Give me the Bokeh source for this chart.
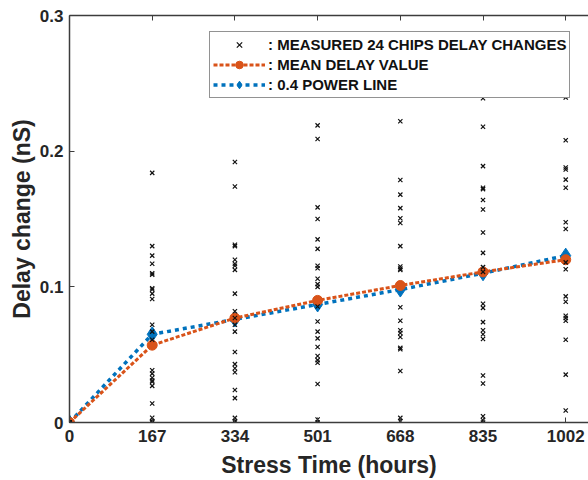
import numpy as np
from bokeh.plotting import figure
from bokeh.models import (Range1d, FixedTicker, LinearAxis, Legend, LegendItem,
                          ColumnDataSource, CustomJSTickFormatter)
from bokeh.embed import file_html
from bokeh.resources import INLINE

# ---- data ----
stress_hours = [0, 167, 334, 501, 668, 835, 1002]
x_tick_labels = ["0", "167", "334", "501", "668", "835", "1002"]
y_tick_values = [0, 0.1, 0.2, 0.3]
y_tick_labels = ["0", "0.1", "0.2", "0.3"]

measured_0 = [0.0] * 24
measured_167 = [0.184, 0.130, 0.123, 0.117, 0.110, 0.109, 0.099, 0.098, 0.095, 0.091,
                0.072, 0.067, 0.061, 0.0385, 0.036, 0.033, 0.031, 0.030, 0.027, 0.014,
                0.0035, 0.001, 0.0, 0.0]
measured_334 = [0.192, 0.174, 0.131, 0.130, 0.120, 0.117, 0.1155, 0.1125, 0.095, 0.082,
                0.077, 0.072, 0.067, 0.052, 0.043, 0.040, 0.037, 0.024, 0.018, 0.0034,
                0.001, 0.0]
measured_501 = [0.219, 0.209, 0.1586, 0.150, 0.135, 0.128, 0.1155, 0.1137, 0.106, 0.102,
                0.100, 0.0855, 0.0745, 0.067, 0.062, 0.0556, 0.049, 0.046, 0.044, 0.0284,
                0.0022, 0.0]
measured_668 = [0.222, 0.1787, 0.168, 0.158, 0.1505, 0.147, 0.130, 0.115, 0.1135, 0.1125,
                0.085, 0.075, 0.068, 0.066, 0.063, 0.055, 0.054, 0.038, 0.0034, 0.001]
measured_835 = [0.239, 0.218, 0.189, 0.173, 0.172, 0.164, 0.157, 0.140, 0.125, 0.1145,
                0.111, 0.0875, 0.0845, 0.074, 0.068, 0.065, 0.0615, 0.0346, 0.0287, 0.0046,
                0.0017, 0.0]
measured_1002 = [0.2395, 0.208, 0.188, 0.1865, 0.179, 0.173, 0.1476, 0.1426, 0.118, 0.113,
                 0.093, 0.089, 0.0787, 0.077, 0.075, 0.061, 0.0353, 0.0088]

mean_delay = [0.0, 0.057, 0.077, 0.090, 0.101, 0.111, 0.120]
power_line = [0.0, 0.065, 0.076, 0.087, 0.098, 0.110, 0.123]

measured_by_time = [measured_0, measured_167, measured_334, measured_501,
                    measured_668, measured_835, measured_1002]

# ---- build sources ----
mx, my = [], []
for t, vals in zip(stress_hours, measured_by_time):
    mx.extend([t] * len(vals))
    my.extend(vals)
meas_src = ColumnDataSource(dict(x=mx, y=my))
mean_src = ColumnDataSource(dict(x=stress_hours, y=mean_delay))
pow_src = ColumnDataSource(dict(x=stress_hours, y=power_line))

ORANGE = "#D95319"
BLUE = "#0072BD"
AX = "#3c3c3c"
TXT = "#262626"
FONT = "Liberation Sans"

p = figure(width=588, height=480, x_range=Range1d(0, 1048), y_range=Range1d(0, 0.3),
           output_backend="svg", toolbar_location=None,
           min_border_left=69, min_border_right=0, min_border_top=15, min_border_bottom=57)
p.xgrid.visible = False
p.ygrid.visible = False
p.outline_line_color = None
p.background_fill_color = "white"
p.border_fill_color = "white"

# lines + markers
bl = p.line("x", "y", source=pow_src, line_color=BLUE, line_width=3.5, line_dash="4 4")
bm = p.scatter("x", "y", source=pow_src, marker="diamond", size=15, fill_color=BLUE,
               line_color=BLUE)
ol = p.line("x", "y", source=mean_src, line_color=ORANGE, line_width=3, line_dash="4 2")
om = p.scatter("x", "y", source=mean_src, marker="circle", size=10, fill_color=ORANGE,
               line_color=ORANGE)
sc = p.scatter("x", "y", source=meas_src, marker="x", size=6, line_color="#111111",
               line_width=1.2)

# axes
def style_axis(ax):
    ax.axis_line_color = AX
    ax.axis_line_width = 1.5
    ax.major_tick_line_color = AX
    ax.major_tick_line_width = 1
    ax.major_tick_in = 5
    ax.major_tick_out = 0
    ax.minor_tick_line_color = None
    ax.major_label_text_font = FONT
    ax.major_label_text_font_style = "bold"
    ax.major_label_text_font_size = "17px"
    ax.major_label_text_color = TXT
    ax.axis_label_text_font = FONT
    ax.axis_label_text_font_style = "bold"
    ax.axis_label_text_font_size = "23px"
    ax.axis_label_text_color = TXT

xa = p.xaxis[0]
style_axis(xa)
xa.ticker = FixedTicker(ticks=stress_hours)
xa.major_label_overrides = {t: l for t, l in zip(stress_hours, x_tick_labels)}
xa.axis_label = "Stress Time (hours)"
xa.major_label_standoff = 7
xa.axis_label_standoff = 7

ya = p.yaxis[0]
style_axis(ya)
ya.ticker = FixedTicker(ticks=y_tick_values)
ya.major_label_overrides = {t: l for t, l in zip(y_tick_values, y_tick_labels)}
ya.axis_label = "Delay change (nS)"
ya.major_label_standoff = 6
ya.axis_label_standoff = 2

top = LinearAxis(ticker=FixedTicker(ticks=stress_hours),
                 formatter=CustomJSTickFormatter(code="return ''"))
style_axis(top)
top.major_label_standoff = 0
p.add_layout(top, "above")

legend = Legend(items=[
    LegendItem(label=": MEASURED 24 CHIPS DELAY CHANGES", renderers=[sc]),
    LegendItem(label=": MEAN DELAY VALUE", renderers=[ol, om]),
    LegendItem(label=": 0.4 POWER LINE", renderers=[bl, bm]),
], location=(140, 324))
legend.label_text_font = FONT
legend.label_text_font_style = "bold"
legend.label_text_font_size = "15px"
legend.label_text_color = "#111111"
legend.glyph_width = 52
legend.glyph_height = 19
legend.label_height = 19
legend.label_standoff = 3
legend.padding = 3
legend.spacing = 1
legend.margin = 0
legend.border_line_color = TXT
legend.border_line_width = 1
legend.background_fill_alpha = 1
p.add_layout(legend)

open("out.html", "w").write(file_html(p, INLINE))
